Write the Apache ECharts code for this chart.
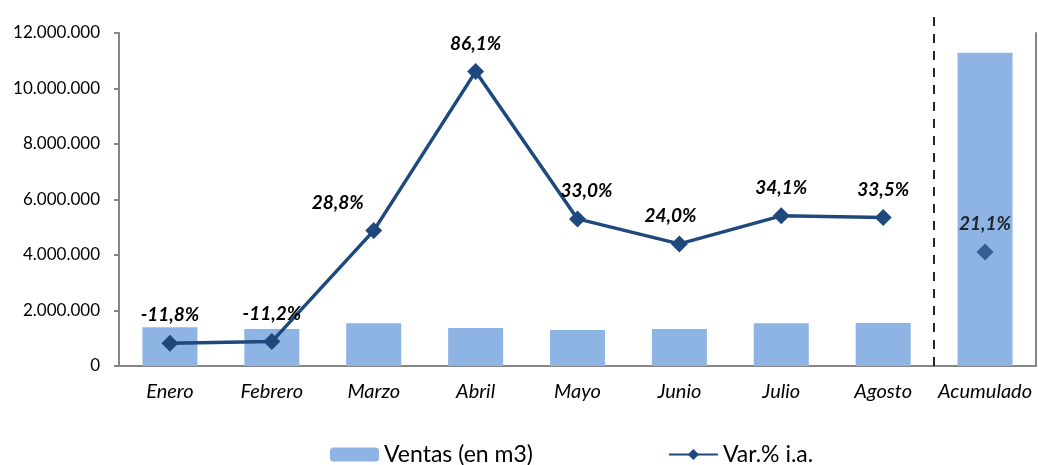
<!DOCTYPE html>
<html>
<head>
<meta charset="utf-8">
<title>Ventas y variación interanual</title>
<script src="https://cdn.jsdelivr.net/npm/echarts@6/dist/echarts.min.js"></script>
<style>
  html, body { margin: 0; padding: 0; background: #fff; }
  #chart { width: 1038px; height: 465px; }
</style>
</head>
<body>
<div id="chart"></div>
<script>
const categories = ["Enero", "Febrero", "Marzo", "Abril", "Mayo", "Junio", "Julio", "Agosto", "Acumulado"];
const ventas = [1400000, 1330000, 1540000, 1370000, 1300000, 1330000, 1540000, 1550000, 11290000];
const variacion = [-11.8, -11.2, 28.8, 86.1, 33.0, 24.0, 34.1, 33.5, 21.1];
const yTicks = [0, 2000000, 4000000, 6000000, 8000000, 10000000, 12000000];
// the accumulated point sits apart from the monthly line
const dividerAt = 7.5;

const font = "Lato";
const barColor = "#8EB4E3";
const lineColor = "#1F497D";
const axisGray = "#868686";

const fmtMiles = v => String(v).replace(/\B(?=(\d{3})+(?!\d))/g, ".");
const fmtPct = v => v.toFixed(1).replace(".", ",") + "%";

// label nudges, Marzo's label is pushed to the left in the original
const labelOffsets = { 2: [-36, 0], 4: [9, 0], 5: [-9, 0] };

const lineData = variacion.map((v, i) => {
  if (i === categories.length - 1) return "-";
  const item = { value: v };
  if (labelOffsets[i]) item.label = { offset: labelOffsets[i] };
  return item;
});
const acumData = variacion.map((v, i) => (i === categories.length - 1 ? v : "-"));

const pctLabel = {
  show: true,
  position: "top",
  distance: 10,
  formatter: p => fmtPct(p.value),
  fontFamily: font,
  fontStyle: "italic",
  fontWeight: "bold",
  fontSize: 19,
  color: "#000"
};

const chart = echarts.init(document.getElementById("chart"));
chart.setOption({
  backgroundColor: "#fff",
  animation: false,
  textStyle: { fontFamily: font },
  grid: [
    { left: 119, right: 2, top: 33, bottom: 99 },
    { left: 119, right: 2, top: 12, bottom: 99 }
  ],
  legend: {
    data: ["Ventas (en m3)", "Var.% i.a."],
    left: 325,
    top: 438,
    itemWidth: 49,
    itemHeight: 14,
    itemGap: 135,
    textStyle: { fontFamily: font, fontSize: 23, color: "#000" }
  },
  xAxis: [
    {
      type: "category",
      data: categories,
      gridIndex: 0,
      axisLine: { lineStyle: { color: axisGray, width: 2 } },
      axisTick: { show: false },
      axisLabel: {
        interval: 0,
        margin: 16,
        fontFamily: font,
        fontStyle: "italic",
        fontSize: 20,
        color: "#000"
      }
    },
    {
      type: "value",
      gridIndex: 1,
      min: -0.5,
      max: categories.length - 0.5,
      show: false
    }
  ],
  yAxis: [
    {
      type: "value",
      gridIndex: 0,
      min: yTicks[0],
      max: yTicks[yTicks.length - 1],
      interval: yTicks[1] - yTicks[0],
      axisLine: { show: true, lineStyle: { color: axisGray, width: 2 } },
      axisTick: { show: true, length: 5, lineStyle: { color: axisGray, width: 2 } },
      splitLine: { show: false },
      axisLabel: {
        margin: 19,
        formatter: fmtMiles,
        fontFamily: font,
        fontSize: 17,
        color: "#000"
      }
    },
    {
      type: "value",
      gridIndex: 0,
      min: -20,
      max: 100,
      position: "right",
      axisLine: { show: true, lineStyle: { color: axisGray, width: 2 } },
      axisTick: { show: false },
      axisLabel: { show: false },
      splitLine: { show: false }
    },
    {
      type: "value",
      gridIndex: 1,
      min: 0,
      max: 1,
      show: false
    }
  ],
  series: [
    {
      name: "Ventas (en m3)",
      type: "bar",
      data: ventas,
      barWidth: "54%",
      itemStyle: { color: barColor },
      silent: true
    },
    {
      name: "Var.% i.a.",
      type: "line",
      yAxisIndex: 1,
      data: lineData,
      symbol: "diamond",
      symbolSize: 17,
      lineStyle: { color: lineColor, width: 3.5 },
      itemStyle: { color: lineColor },
      label: pctLabel,
      z: 5
    },
    {
      name: "acumulado",
      type: "scatter",
      yAxisIndex: 1,
      data: acumData,
      symbol: "diamond",
      symbolSize: 17,
      itemStyle: { color: lineColor },
      label: pctLabel,
      z: 5
    },
    {
      name: "divisor",
      type: "line",
      xAxisIndex: 1,
      yAxisIndex: 2,
      data: [],
      silent: true,
      markLine: {
        silent: true,
        symbol: "none",
        label: { show: false },
        lineStyle: { color: "#262626", width: 2, type: [9, 8] },
        data: [{ xAxis: dividerAt }]
      }
    }
  ]
});
</script>
</body>
</html>
